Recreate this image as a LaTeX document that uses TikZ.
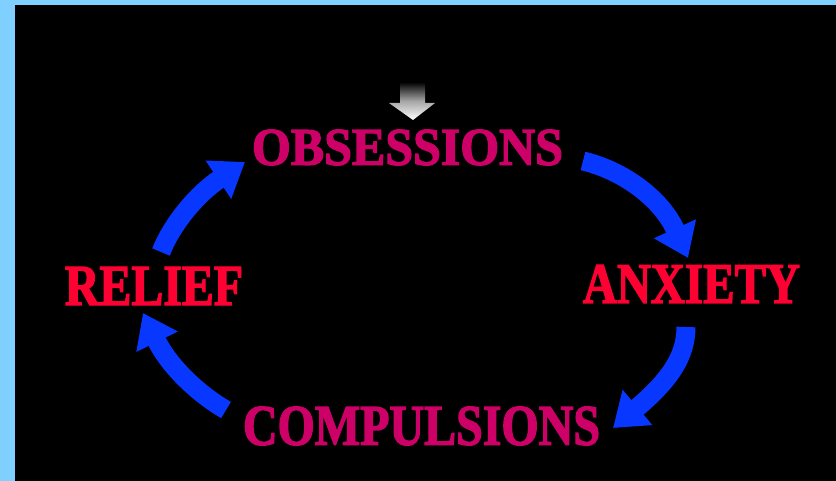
\documentclass[tikz,border=0pt]{standalone}
\usepackage{fontspec}
\setmainfont{Liberation Serif}
\newfontfamily\heavyfont{Liberation Serif Bold}[FakeBold=2.5]
\usetikzlibrary{arrows.meta}
\definecolor{bgblue}{RGB}{128,208,255}
\definecolor{arrblue}{RGB}{8,56,255}
\definecolor{magtext}{RGB}{204,0,102}
\definecolor{redtext}{RGB}{255,0,51}
\begin{document}
\begin{tikzpicture}[x=1pt,y=-1pt,
  lbl/.style={inner sep=0pt, font=\heavyfont},
  cyc/.style={arrblue, line width=19pt, -{Triangle[width=44pt,length=32pt]}}]
\fill[bgblue] (0,0) rectangle (836,481);
\fill[black] (15,5) rectangle (836,481);
\useasboundingbox (0,0) rectangle (836,481);
% labels
\node[lbl, text=magtext] (obs) at (407.5,147.5) {\resizebox{311pt}{35pt}{OBSESSIONS}};
\node[lbl, text=redtext] (anx) at (691.5,284) {\resizebox{217pt}{38pt}{ANXIETY}};
\node[lbl, text=magtext] (comp) at (421.5,426) {\resizebox{357pt}{38pt}{COMPULSIONS}};
\node[lbl, text=redtext] (rel) at (154,286) {\resizebox{178pt}{38pt}{RELIEF}};
% arrow end points
\coordinate (a1s) at (583,161);
\coordinate (a1e) at (688,258);
\coordinate (a2s) at (686,327);
\coordinate (a2e) at (613,428);
\coordinate (a3s) at (226,410);
\coordinate (a3e) at (143,313);
\coordinate (a4s) at (161,252);
\coordinate (a4e) at (245,162);
\draw[cyc] (a1s) .. controls (625,171) and (662,200) .. (a1e);
\draw[cyc] (a2s) .. controls (686,356) and (670,380) .. (a2e);
\draw[cyc] (a3s) .. controls (200,395) and (170,368) .. (a3e);
\draw[cyc] (a4s) .. controls (172,224) and (197,194) .. (a4e);
% grey entry arrow
\shade[top color=black, bottom color=white, middle color=gray!70]
  (400,82) -- (425,82) -- (425,103) -- (435,103) -- (413,120) -- (389,103) -- (400,103) -- cycle;
\end{tikzpicture}
\end{document}
